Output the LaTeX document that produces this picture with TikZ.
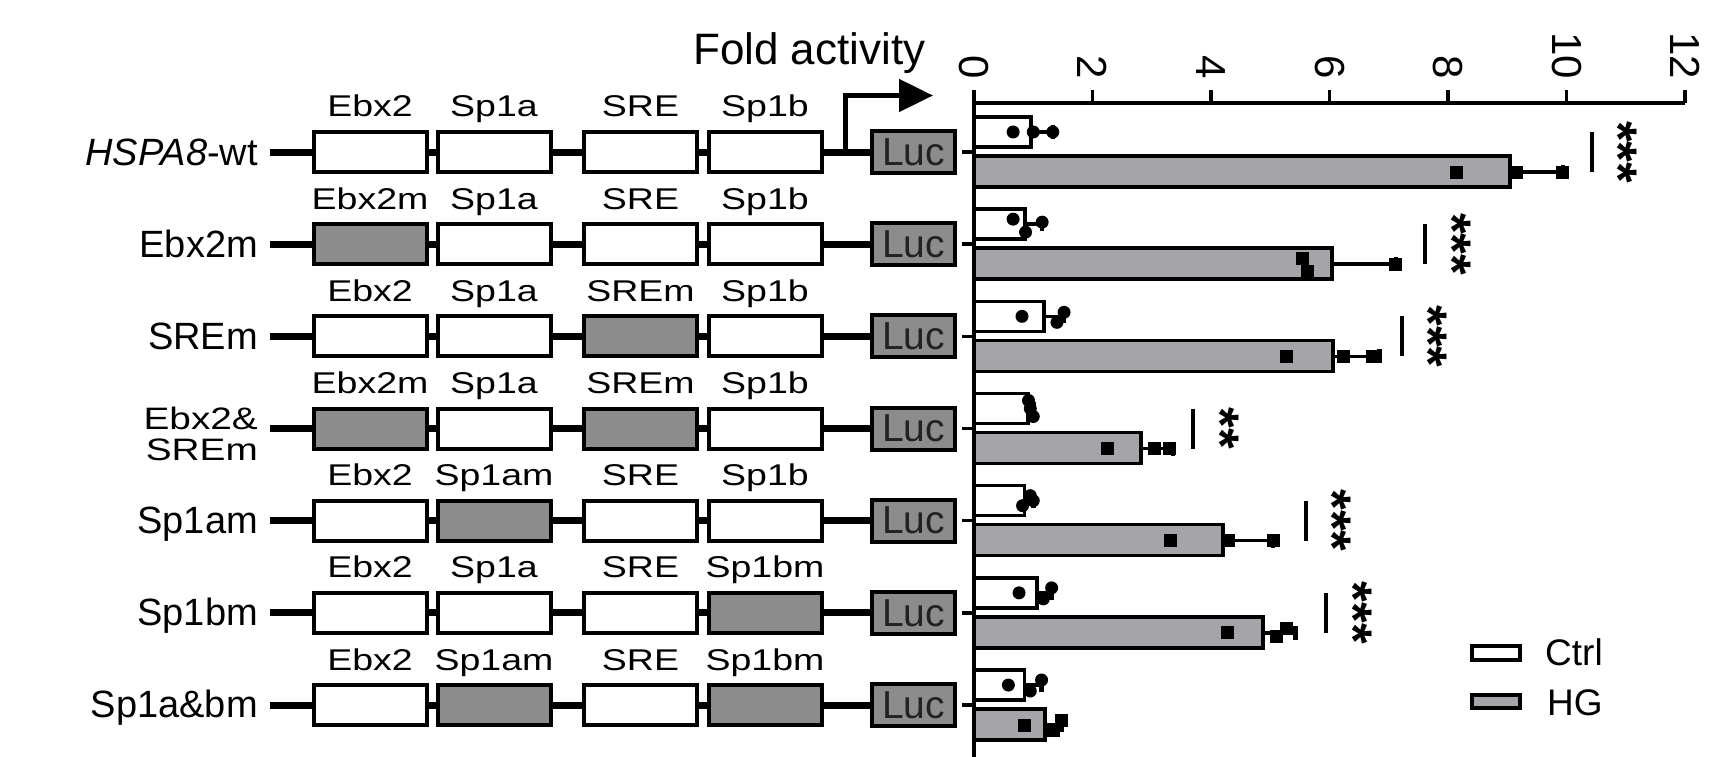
\documentclass[tikz,border=0pt]{standalone}
\usepackage{fontspec}
\setmainfont{Liberation Sans}
\newfontfamily\stretchfont[FakeStretch=1.25]{Liberation Sans}
\usetikzlibrary{arrows.meta}
\definecolor{mutgray}{HTML}{8C8C8C}
\definecolor{hggray}{HTML}{A5A5A9}
\definecolor{lucink}{HTML}{222222}

\tikzset{
  elem/.style={draw, line width=4pt, minimum width=113pt, minimum height=40pt, inner sep=0pt, fill=white},
  mut/.style={fill=mutgray},
  wt/.style={},
  lucbox/.style={draw, line width=4pt, minimum width=83pt, minimum height=42pt, inner sep=0pt, fill=mutgray,
    text=lucink, font=\fontsize{39}{39}\selectfont},
  backbone/.style={line width=7pt},
  elemlabel/.style={font=\stretchfont\fontsize{30}{30}\selectfont, anchor=base, inner sep=0pt},
  rowlabel/.style={font=\fontsize{38}{38}\selectfont, anchor=base east, inner sep=0pt},
  rowlabelsmall/.style={font=\stretchfont\fontsize{31}{31}\selectfont, anchor=base east, inner sep=0pt},
  axisline/.style={line width=3.5pt},
  ticklab/.style={font=\fontsize{42}{42}\selectfont, rotate=-90, anchor=east, inner sep=0pt},
  barline/.style={draw, line width=3.5pt},
  errline/.style={line width=3.5pt},
  capline/.style={line width=4.5pt},
  sigline/.style={line width=3.5pt},
  stars/.style={font=\bfseries\fontsize{53}{53}\selectfont, rotate=-90, anchor=base, inner sep=0pt},
  legbox/.style={draw, line width=4pt},
  legtext/.style={font=\fontsize{37}{37}\selectfont, anchor=base west, inner sep=0pt},
}

% #1 row index, #2..#5 label/style of the four elements
\newcommand\construct[5]{%
  \pgfmathsetmacro\yc{152+92.17*(#1-1)}
  \coordinate (s#1) at (270,\yc);
  \foreach \lab/\fil/\xx [count=\k] in {#2/370,#3/494,#4/640.5,#5/765} {
    \node[elem, \fil] (r#1b\k) at (\xx,\yc) {};
    \node[elemlabel] (r#1l\k) at (\xx,\yc-35) {\lab};
  }
  \node[lucbox] (r#1luc) at (913.5,\yc) {Luc};
  \draw[backbone] (s#1) -- (r#1b1.west);
  \draw[backbone] (r#1b1.east) -- (r#1b2.west);
  \draw[backbone] (r#1b2.east) -- (r#1b3.west);
  \draw[backbone] (r#1b3.east) -- (r#1b4.west);
  \draw[backbone] (r#1b4.east) -- (r#1luc.west);
}

% #1 row, #2 ctrl mean, #3 ctrl end of error, #4 ctrl points, #5 HG mean, #6 HG end, #7 HG points
\newcommand\barrow[7]{%
  \pgfmathsetmacro\yc{152+92.17*(#1-1)}
  \draw[axisline] (962,\yc) -- (974,\yc);
  \draw[errline] ({974+#2*59.25},\yc-20) -- ({974+#3*59.25},\yc-20);
  \draw[capline] ({974+#3*59.25},\yc-27) -- ({974+#3*59.25},\yc-13);
  \draw[barline, fill=white] (974,\yc-35) rectangle ({974+#2*59.25},\yc-5);
  \foreach \v/\o in {#4} {
    \fill ({974+\v*59.25},\yc-20+\o) circle[radius=6.5];
  }
  \draw[errline] ({974+#5*59.25},\yc+20) -- ({974+#6*59.25},\yc+20);
  \draw[capline] ({974+#6*59.25},\yc+13) -- ({974+#6*59.25},\yc+27);
  \draw[barline, fill=hggray] (974,\yc+4) rectangle ({974+#5*59.25},\yc+35);
  \foreach \v/\o in {#7} {
    \fill ({974+\v*59.25-6.5},\yc+20+\o-6.5) rectangle ++(13,13);
  }
}

% #1 row, #2 line x, #3 star x, #4 stars
\newcommand\sig[4]{%
  \pgfmathsetmacro\yc{152+92.17*(#1-1)}
  \draw[sigline] (#2,\yc-20) -- (#2,\yc+20);
  \node[stars] (sig#1) at (#3-30,\yc) {#4};
}

\begin{document}
\begin{tikzpicture}[x=1pt,y=-1pt]
\useasboundingbox[fill=white] (0,0) rectangle (1718,757);

% constructs
\construct{1}{Ebx2/wt}{Sp1a/wt}{SRE/wt}{Sp1b/wt}
\construct{2}{Ebx2m/mut}{Sp1a/wt}{SRE/wt}{Sp1b/wt}
\construct{3}{Ebx2/wt}{Sp1a/wt}{SREm/mut}{Sp1b/wt}
\construct{4}{Ebx2m/mut}{Sp1a/wt}{SREm/mut}{Sp1b/wt}
\construct{5}{Ebx2/wt}{Sp1am/mut}{SRE/wt}{Sp1b/wt}
\construct{6}{Ebx2/wt}{Sp1a/wt}{SRE/wt}{Sp1bm/mut}
\construct{7}{Ebx2/wt}{Sp1am/mut}{SRE/wt}{Sp1bm/mut}

% row labels
\node[rowlabel] (n1) at (258,165) {\textit{HSPA8}-wt};
\node[rowlabel] (n2) at (258,257.2) {Ebx2m};
\node[rowlabel] (n3) at (258,349.3) {SREm};
\node[rowlabelsmall] (n4a) at (258,429) {Ebx2\&};
\node[rowlabelsmall] (n4b) at (258,460) {SREm};
\node[rowlabel] (n5) at (258,533.5) {Sp1am};
\node[rowlabel] (n6) at (258,625.7) {Sp1bm};
\node[rowlabel] (n7) at (258,717.9) {Sp1a\&bm};

% promoter arrow and title
\coordinate (tss) at (845,152);
\coordinate (tip) at (933,95.5);
\draw[line width=5pt, -{Triangle[length=34pt,width=32pt]}] (tss) |- (tip);
\node[font=\fontsize{44}{44}\selectfont, anchor=base west, inner sep=0pt] (fold) at (693,65) {Fold activity};

% axes
\draw[axisline] (974,90) -- (974,757);
\draw[axisline] (974,103) -- (1685,103);
\foreach \t [count=\j] in {0,2,...,12} {
  \draw[axisline] ({974+\t*59.25},90) -- ({974+\t*59.25},103);
  \node[ticklab] (tick\j) at ({974+\t*59.25},79) {\t};
}

% bars
\barrow{1}{0.96}{1.33}{0.66/0,1.0/0,1.33/0}{9.05}{9.94}{8.15/0,9.15/0,9.94/0}
\barrow{2}{0.86}{1.15}{0.66/-5,0.87/8,1.15/-2}{6.04}{7.12}{5.55/-6,5.62/7,7.12/0}
\barrow{3}{1.18}{1.52}{0.81/0,1.40/6,1.52/-4}{6.06}{6.84}{5.27/0,6.23/0,6.73/0}
\barrow{4}{0.91}{1.0}{0.92/-8,0.95/0,1.0/8}{2.82}{3.36}{2.26/0,3.05/0,3.30/0}
\barrow{5}{0.85}{1.0}{0.82/5,0.95/-5,1.0/0}{4.2}{5.05}{3.32/0,4.29/0,5.05/0}
\barrow{6}{1.06}{1.31}{0.76/0,1.17/6,1.31/-5}{4.88}{5.43}{4.27/0,5.10/4,5.28/-4}
\barrow{7}{0.85}{1.14}{0.58/0,0.95/6,1.14/-5}{1.2}{1.48}{0.85/0,1.34/5,1.48/-5}

% significance
\sig{1}{1592}{1630}{***}
\sig{2}{1425}{1464}{***}
\sig{3}{1402}{1440}{***}
\sig{4}{1193}{1232}{**}
\sig{5}{1306}{1344}{***}
\sig{6}{1326}{1365}{***}

% legend
\draw[legbox, fill=white] (1472,646) rectangle (1520,660);
\draw[legbox, fill=hggray] (1472,695) rectangle (1520,708);
\node[legtext] (ctrl) at (1545,665) {Ctrl};
\node[legtext] (hg) at (1547,715) {HG};
\end{tikzpicture}
\end{document}
